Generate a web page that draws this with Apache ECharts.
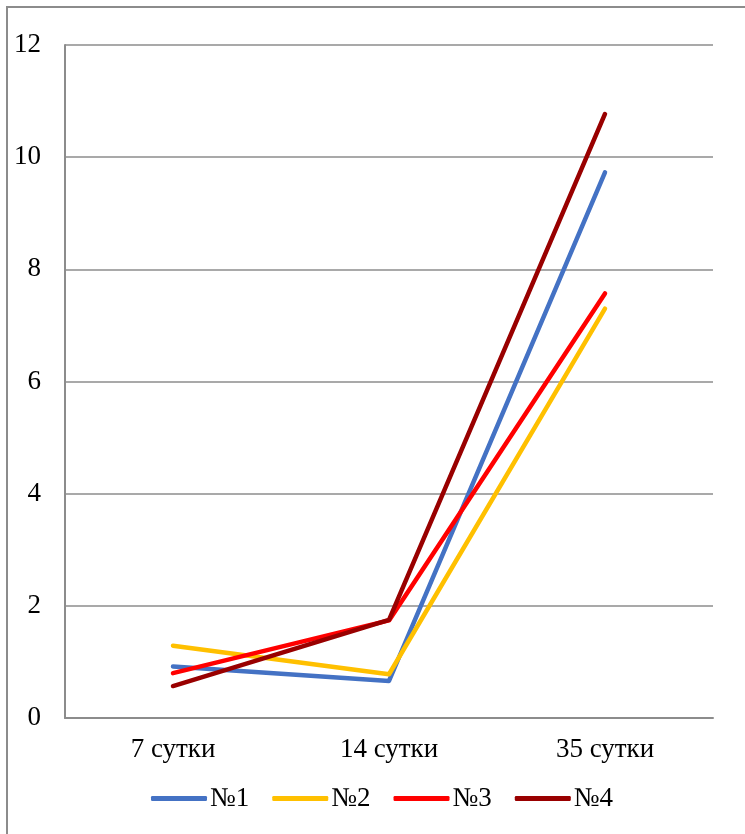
<!DOCTYPE html>
<html>
<head>
<meta charset="utf-8">
<script src="https://cdn.jsdelivr.net/npm/echarts@6/dist/echarts.min.js"></script>
<style>
  html, body { margin: 0; padding: 0; background: #fff; }
  #frame { position: absolute; left: 6px; top: 6px; width: 745px; height: 834px; border: 2px solid #8c8c8c; box-sizing: border-box; }
  #chart { position: absolute; left: 0; top: 0; width: 745px; height: 834px; }
</style>
</head>
<body>
<div id="frame"></div>
<div id="chart"></div>
<script>
// Time points along the horizontal axis
const categories = ['7 сутки', '14 сутки', '35 сутки'];

// Measured values for each sample
const s1 = [0.92, 0.66, 9.73];
const s2 = [1.29, 0.78, 7.30];
const s3 = [0.80, 1.74, 7.57];
const s4 = [0.57, 1.75, 10.77];

const seriesNames = ['№1', '№2', '№3', '№4'];
const seriesData = [s1, s2, s3, s4];
const colors = ['#4472c4', '#ffc000', '#ff0000', '#990000'];

const yTicks = { min: 0, max: 12, interval: 2 };

const font = '"Liberation Serif", "Times New Roman", serif';

const chart = echarts.init(document.getElementById('chart'), null, { renderer: 'canvas' });

chart.setOption({
  animation: false,
  color: colors,
  grid: { left: 65, right: 32, top: 45, bottom: 116 },
  legend: {
    bottom: 22,
    left: 151,
    padding: 0,
    itemWidth: 56,
    itemHeight: 5,
    itemGap: 23,
    icon: 'roundRect',
    textStyle: { fontFamily: font, fontSize: 27, color: '#000', padding: [0, 0, 0, -2] },
    data: seriesNames
  },
  xAxis: {
    type: 'category',
    data: categories,
    boundaryGap: true,
    axisLine: { lineStyle: { color: '#8c8c8c', width: 2 } },
    axisTick: { show: false },
    axisLabel: { fontFamily: font, fontSize: 27, color: '#000', margin: 18 }
  },
  yAxis: {
    type: 'value',
    min: yTicks.min,
    max: yTicks.max,
    interval: yTicks.interval,
    axisLine: { show: true, lineStyle: { color: '#8c8c8c', width: 2 } },
    axisTick: { show: false },
    splitLine: { lineStyle: { color: '#8c8c8c', width: 1.5 } },
    axisLabel: { fontFamily: font, fontSize: 27, color: '#000', margin: 24 }
  },
  series: seriesNames.map((name, i) => ({
    name,
    type: 'line',
    data: seriesData[i],
    symbol: 'none',
    lineStyle: { width: 4.5, color: colors[i], cap: 'round', join: 'round' },
    itemStyle: { color: colors[i] }
  }))
});
</script>
</body>
</html>
